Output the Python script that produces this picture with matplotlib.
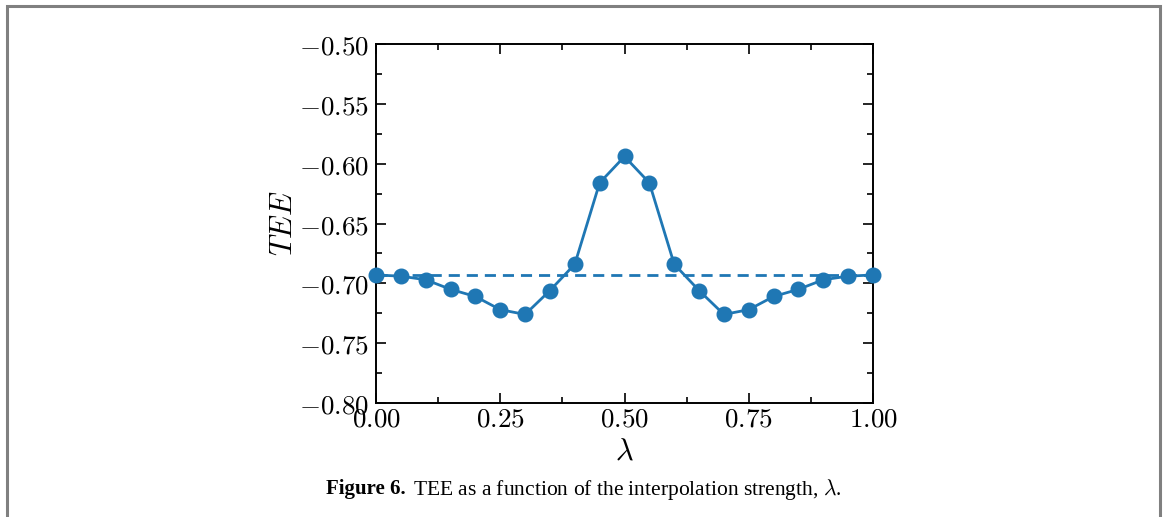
import matplotlib
matplotlib.use("Agg")
import matplotlib.pyplot as plt
from matplotlib.ticker import MultipleLocator, FuncFormatter
from matplotlib.patches import Rectangle

plt.rcParams['mathtext.fontset'] = 'cm'
plt.rcParams['font.family'] = ['DejaVu Serif']

# data
lam = [0.00, 0.05, 0.10, 0.15, 0.20, 0.25, 0.30, 0.35, 0.40, 0.45, 0.50,
       0.55, 0.60, 0.65, 0.70, 0.75, 0.80, 0.85, 0.90, 0.95, 1.00]
tee = [-0.693, -0.694, -0.697, -0.705, -0.711, -0.722, -0.726, -0.706, -0.684, -0.616, -0.594,
       -0.616, -0.684, -0.706, -0.726, -0.722, -0.711, -0.705, -0.697, -0.694, -0.693]
ref_level = -0.6931

fig = plt.figure(figsize=(11.65, 5.17), dpi=100)
ax = fig.add_axes([376 / 1165, 1 - 403 / 517, 497 / 1165, 359 / 517])

ax.plot(lam, tee, '-o', color='#1f77b4', lw=2, ms=10.5, clip_on=False, zorder=3)
ax.axhline(ref_level, color='#1f77b4', lw=2, ls='--', dashes=(4, 2.5))

ax.set_xlim(0, 1)
ax.set_ylim(-0.80, -0.50)
ax.xaxis.set_major_locator(MultipleLocator(0.25))
ax.xaxis.set_minor_locator(MultipleLocator(0.125))
ax.yaxis.set_major_locator(MultipleLocator(0.05))
ax.yaxis.set_minor_locator(MultipleLocator(0.025))
fmt = FuncFormatter(lambda v, p: r'$%.2f$' % v)
ax.xaxis.set_major_formatter(fmt)
ax.yaxis.set_major_formatter(fmt)
ax.tick_params(which='both', direction='in', top=True, right=True, width=1.2)
ax.tick_params(which='major', length=7, labelsize=19.5)
ax.tick_params(axis='y', which='major', pad=5)
ax.tick_params(axis='x', which='major', pad=2)
ax.tick_params(which='minor', length=4)
for s in ax.spines.values():
    s.set_linewidth(1.4)

ax.set_xlabel(r'$\lambda$', fontsize=22, labelpad=2)
ax.set_ylabel(r'$TEE$', fontsize=22, labelpad=0)

# page frame
fig.patches.append(Rectangle((7 / 1165, -0.1), 1153 / 1165, 1.1 - 6 / 517, transform=fig.transFigure,
                             fill=False, edgecolor='#808080', lw=2.2))

fig.text(326 / 1165, 1 - 489 / 517, 'Figure 6.', fontsize=15, fontweight='bold',
         family='Liberation Serif', va='center')
fig.text(413 / 1165, 1 - 489 / 517, r'TEE as a function of the interpolation strength, $\lambda$.',
         fontsize=15.5, family='Liberation Serif', va='center')

fig.savefig('out.png', dpi=100)
